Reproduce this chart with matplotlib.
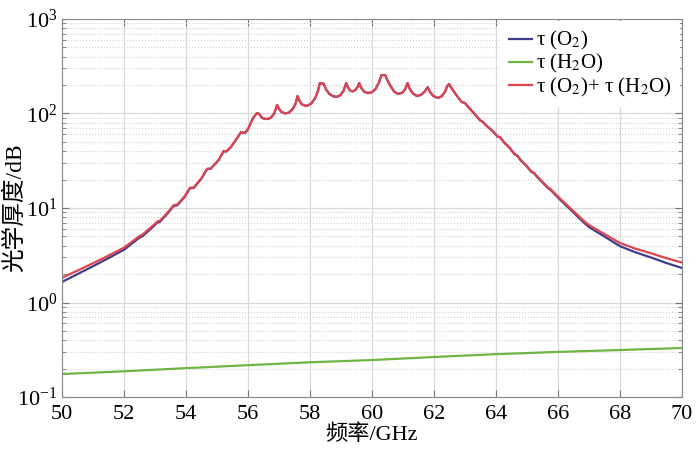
import numpy as np
import matplotlib.pyplot as plt
from matplotlib.ticker import LogLocator, NullFormatter, FixedLocator

plt.rcParams['font.family'] = ['Liberation Serif', 'Noto Sans CJK SC']
plt.rcParams['mathtext.fontset'] = 'stix'

# oxygen optical depth (GHz, dB)
freq_o2 = [50.0, 50.5, 51.0, 51.5, 52.0, 52.5, 52.6, 53.0, 53.07, 53.15, 53.4,
           53.6, 53.72, 53.95, 54.13, 54.25, 54.5, 54.68, 54.8, 55.05, 55.22,
           55.3, 55.45, 55.6, 55.7, 55.78, 55.9, 56.0, 56.16, 56.29, 56.36,
           56.45, 56.55, 56.65, 56.75, 56.85, 56.94,
           57.0, 57.08, 57.2, 57.32, 57.45, 57.54, 57.6,
           57.66, 57.75, 57.9, 58.05, 58.18, 58.27, 58.32, 58.38, 58.44,
           58.52, 58.62, 58.75, 58.87, 58.98, 59.08, 59.17,
           59.23, 59.3, 59.38, 59.47, 59.54, 59.59,
           59.65, 59.75, 59.87, 60.0, 60.12, 60.22, 60.31, 60.43,
           60.5, 60.6, 60.72, 60.85, 60.98, 61.08, 61.15,
           61.22, 61.32, 61.45, 61.58, 61.7, 61.8,
           61.87, 61.98, 62.13, 62.25, 62.36, 62.43, 62.49,
           62.55, 62.65, 62.78, 62.9, 63.0, 63.1,
           63.3, 63.5, 63.57, 63.68, 63.9, 64.05, 64.13, 64.25, 64.45, 64.6,
           64.68, 64.8, 65.0, 65.15, 65.22, 65.35, 65.55, 65.7, 65.76, 65.9,
           66.1, 66.3, 66.5, 66.84, 67.0, 67.5, 68.0, 68.5, 69.0, 69.5, 70.0]
tau_o2 = [1.65, 2.0, 2.42, 2.95, 3.62, 4.85, 5.05, 6.6, 7.0, 7.1, 8.7,
          10.5, 10.7, 13.0, 16.2, 16.3, 20.5, 25.8, 26.0, 32.0, 40.0,
          39.5, 44.0, 52.0, 58.0, 63.5, 62.0, 68.0, 89.0, 101.0, 99.0,
          90.0, 87.5, 87.5, 91.0, 100.0, 123.0,
          112.0, 104.0, 100.0, 102.0, 112.0, 128.0, 153.0,
          136.0, 124.0, 120.0, 128.0, 148.0, 178.0, 210.0, 208.0, 207.0,
          180.0, 162.0, 152.0, 150.0, 156.0, 172.0, 210.0,
          188.0, 175.0, 171.0, 178.0, 192.0, 210.0,
          188.0, 170.0, 164.0, 168.0, 182.0, 210.0, 255.0, 255.0,
          225.0, 195.0, 170.0, 161.0, 166.0, 182.0, 210.0,
          182.0, 163.0, 153.0, 157.0, 170.0, 190.0,
          170.0, 153.0, 146.0, 152.0, 170.0, 195.0, 205.0,
          190.0, 170.0, 148.0, 132.0, 129.0, 118.0,
          100.0, 84.0, 82.0, 75.0, 65.0, 57.0, 56.0, 50.0, 43.0, 37.0,
          36.0, 32.0, 27.5, 24.0, 23.5, 21.0, 18.0, 16.0, 15.6, 14.0,
          12.0, 10.4, 9.0, 7.0, 6.3, 5.0, 3.95, 3.4, 3.0, 2.62, 2.32]

# water vapour optical depth
freq_h2o = [50, 52, 54, 56, 58, 60, 62, 64, 66, 68, 70]
tau_h2o = [0.175, 0.187, 0.202, 0.217, 0.233, 0.246, 0.265, 0.284, 0.300, 0.314, 0.330]

freq_o2 = np.array(freq_o2)
tau_total = np.array(tau_o2) + np.interp(freq_o2, freq_h2o, tau_h2o)

fig = plt.figure(figsize=(7.0, 4.49), dpi=100)
ax = fig.add_axes([0.0886, 0.1158, 0.8854, 0.8419])

ax.plot(freq_o2, tau_o2, color='#3d3d8e', lw=1.6, label='τ (O$_2$)',
        solid_joinstyle='round')
ax.plot(freq_h2o, tau_h2o, color='#6db544', lw=1.6, label='τ (H$_2$O)')
ax.plot(freq_o2, tau_total, color='#e0444c', lw=1.6,
        label='τ (O$_2$)+ τ (H$_2$O)', solid_joinstyle='round')

ax.set_yscale('log')
ax.set_xlim(50, 70)
ax.set_ylim(0.1, 1000)
ax.xaxis.set_major_locator(FixedLocator(np.arange(50, 71, 2)))
ax.yaxis.set_major_locator(LogLocator(base=10, numticks=10))
ax.yaxis.set_minor_locator(LogLocator(base=10, subs=np.arange(2, 10), numticks=10))
ax.yaxis.set_minor_formatter(NullFormatter())

ax.grid(True, which='major', color='#d9d9d9', lw=0.9, ls='-')
ax.grid(True, which='minor', axis='y', color='#d0d0d0', lw=0.8, ls=':')
ax.set_axisbelow(True)

ax.tick_params(which='both', direction='in', top=True, right=True,
               labelsize=16, colors='#777777', labelcolor='black')
ax.tick_params(which='major', length=5)
ax.tick_params(which='minor', length=3)
ax.tick_params(axis='x', pad=6)
for s in ax.spines.values():
    s.set_color('#888888')

ax.set_xlabel('频率/GHz', fontsize=16, labelpad=0)
ax.set_ylabel('光学厚度/dB', fontsize=17)
ax.yaxis.set_label_coords(-0.058, 0.5)

leg = ax.legend(loc='upper right', fontsize=15, handlelength=1.1,
                handletextpad=0.2, labelspacing=0.0, borderaxespad=0.1,
                frameon=True, fancybox=False)
leg.get_frame().set_edgecolor('none')
leg.get_frame().set_facecolor('white')
leg.get_frame().set_alpha(1)

fig.savefig('out.png', dpi=100)
